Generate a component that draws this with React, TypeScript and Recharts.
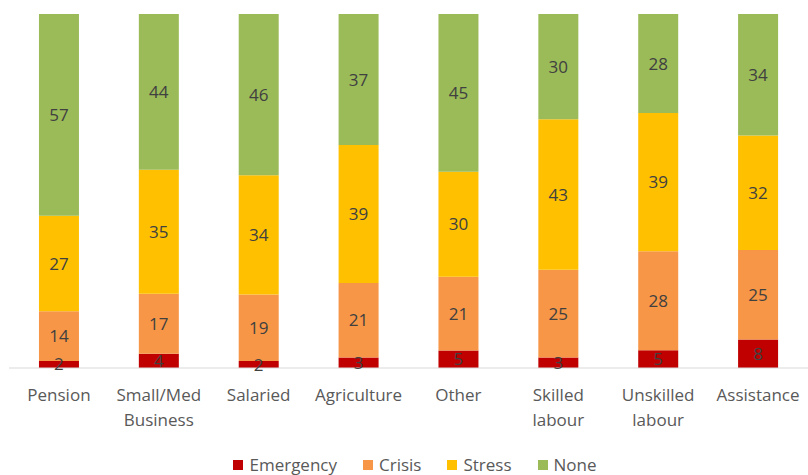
import React from 'react'
import { BarChart, Bar, XAxis, YAxis, LabelList } from 'recharts'

const categories = ['Pension', 'Small/Med\nBusiness', 'Salaried', 'Agriculture', 'Other', 'Skilled\nlabour', 'Unskilled\nlabour', 'Assistance']
const emergency = [2, 4, 2, 3, 5, 3, 5, 8]
const crisis = [14, 17, 19, 21, 21, 25, 28, 25]
const stress = [27, 35, 34, 39, 30, 43, 39, 32]
const none = [57, 44, 46, 37, 45, 30, 28, 34]

const data = categories.map((name, i) => ({
  name,
  Emergency: emergency[i],
  Crisis: crisis[i],
  Stress: stress[i],
  None: none[i],
}))

const font = '"Open Sans", "DejaVu Sans", sans-serif'

function CategoryTick({ x, y, payload }: any) {
  const lines = String(payload.value).split('\n')
  return (
    <text x={x} y={y} textAnchor="middle" fill="#595959" fontSize={17} fontFamily={font}>
      {lines.map((l, i) => (
        <tspan key={i} x={x} dy={25}>{l}</tspan>
      ))}
    </text>
  )
}

const series = [
  { key: 'Emergency', color: '#C00000' },
  { key: 'Crisis', color: '#F79646' },
  { key: 'Stress', color: '#FFC000' },
  { key: 'None', color: '#9BBB59' },
]

export default function App() {
  return (
    <div style={{ position: 'absolute', left: 0, top: 0, width: 808, height: 475, background: '#fff' }}>
      <BarChart
        width={808}
        height={475}
        data={data}
        stackOffset="expand"
        barCategoryGap="30%"
        margin={{ top: 14, right: 0, left: 9, bottom: 0 }}
      >
        <XAxis
          dataKey="name"
          interval={0}
          height={107}
          tick={<CategoryTick />}
          tickLine={false}
          axisLine={{ stroke: '#D9D9D9' }}
        />
        <YAxis hide domain={[0, 1]} />
        {series.map((s) => (
          <Bar key={s.key} dataKey={s.key} stackId="a" fill={s.color} isAnimationActive={false}>
            <LabelList dataKey={s.key} position="center" fill="#404040" fontSize={17} fontFamily={font} />
          </Bar>
        ))}
      </BarChart>
      <div
        style={{
          position: 'absolute',
          left: 0,
          width: 830,
          top: 453,
          display: 'flex',
          justifyContent: 'center',
          gap: 26,
          fontFamily: font,
          fontSize: 17,
          color: '#595959',
        }}
      >
        {series.map((s) => (
          <div key={s.key} style={{ display: 'flex', alignItems: 'center' }}>
            <span style={{ display: 'inline-block', width: 10, height: 10, background: s.color, marginRight: 6 }} />
            <span>{s.key}</span>
          </div>
        ))}
      </div>
    </div>
  )
}
